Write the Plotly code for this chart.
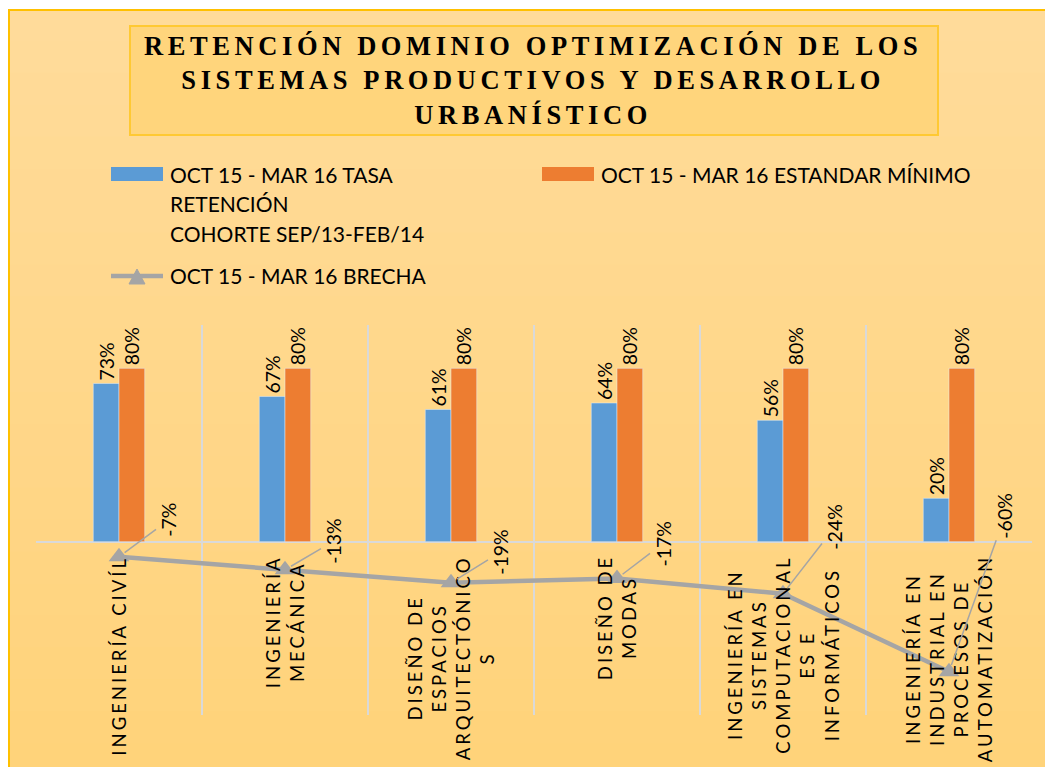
import plotly.graph_objects as go

# ---------------- data ----------------
categories = [
    "INGENIERÍA CIVÍL",
    "INGENIERÍA<br>MECÁNICA",
    "DISEÑO DE<br>ESPACIOS<br>ARQUITECTÓNICO<br>S",
    "DISEÑO DE<br>MODAS",
    "INGENIERÍA EN<br>SISTEMAS<br>COMPUTACIONAL<br>ES E<br>INFORMÁTICOS",
    "INGENIERÍA EN<br>INDUSTRIAL EN<br>PROCESOS DE<br>AUTOMATIZACIÓN",
]
cat_keys = ["c1", "c2", "c3", "c4", "c5", "c6"]
tasa = [0.73, 0.67, 0.61, 0.64, 0.56, 0.20]
estandar = [0.80, 0.80, 0.80, 0.80, 0.80, 0.80]
brecha = [-0.07, -0.13, -0.19, -0.17, -0.24, -0.60]

series_names = [
    "OCT 15 - MAR 16 TASA<br>RETENCIÓN<br>COHORTE SEP/13-FEB/14",
    "OCT 15 - MAR 16 ESTANDAR MÍNIMO",
    "OCT 15 - MAR 16 BRECHA",
]
title_lines = [
    "RETENCIÓN DOMINIO OPTIMIZACIÓN DE LOS",
    "SISTEMAS PRODUCTIVOS Y DESARROLLO",
    "URBANÍSTICO",
]

# ---------------- layout constants ----------------
OFF = 8                      # page body margin
W, H = 1053 - OFF, 767 - OFF
# plot area in screen pixels
SL, SR, ST, SB = 36, 1032, 325, 715
BLUE, ORANGE, GRAY = "#5B9BD5", "#ED7D31", "#A5A5A5"
FONT = "Lato"
# pixel offsets of the brecha labels from their points
label_offsets = [(50, -37), (49, -29), (50, -31), (46, -35), (52, -67), (56, -156)]


def px(x):
    return (x - SL) / (SR - SL)


def py(y):
    return (SB - y) / (SB - ST)


def spaced(text, sp):
    return "<br>".join(
        f"<span style='letter-spacing:{sp}px'>{ln}</span>" for ln in text.split("<br>")
    )


fig = go.Figure()

fig.add_trace(go.Bar(
    x=cat_keys, y=tasa, name=series_names[0], marker_color=BLUE,
    texttemplate="%{y:.0%}", textposition="outside", textangle=-90,
    constraintext="none", cliponaxis=False,
    textfont=dict(family=FONT, size=19.5, color="#000000"), showlegend=False,
))
fig.add_trace(go.Bar(
    x=cat_keys, y=estandar, name=series_names[1], marker_color=ORANGE,
    texttemplate="%{y:.0%}", textposition="outside", textangle=-90,
    constraintext="none", cliponaxis=False,
    textfont=dict(family=FONT, size=19.5, color="#000000"), showlegend=False,
))
fig.add_trace(go.Scatter(
    x=cat_keys, y=brecha, name=series_names[2], mode="lines+markers",
    line=dict(color=GRAY, width=4.5),
    marker=dict(symbol="triangle-up", size=18, color=GRAY),
    cliponaxis=False, showlegend=False,
))

shapes = []
# background gradient of the chart area
top_c = (255, 219, 154)
bot_c = (255, 211, 122)
y0p, y1p = 9, 775
nb = 24
for i in range(nb):
    t = i / (nb - 1)
    c = tuple(round(top_c[k] + (bot_c[k] - top_c[k]) * t) for k in range(3))
    ya = y0p + (y1p - y0p) * i / nb
    yb = y0p + (y1p - y0p) * (i + 1) / nb + 1
    shapes.append(dict(type="rect", xref="paper", yref="paper", layer="below",
                       x0=px(8), x1=px(1065), y0=py(ya), y1=py(yb),
                       fillcolor=f"rgb{c}", line=dict(width=0)))
shapes.append(dict(type="rect", xref="paper", yref="paper", layer="below",
                   x0=px(9), x1=px(1065), y0=py(10), y1=py(790),
                   line=dict(color="#FFC000", width=2)))
# title box
shapes.append(dict(type="rect", xref="paper", yref="paper", layer="below",
                   x0=px(130), x1=px(938), y0=py(26), y1=py(135),
                   fillcolor="#FFD57C", line=dict(color="#FFC933", width=2)))
# legend symbols
shapes.append(dict(type="rect", xref="paper", yref="paper", x0=px(111), x1=px(163),
                   y0=py(167), y1=py(181), fillcolor=BLUE, line=dict(width=0)))
shapes.append(dict(type="rect", xref="paper", yref="paper", x0=px(542), x1=px(594),
                   y0=py(167), y1=py(181), fillcolor=ORANGE, line=dict(width=0)))
shapes.append(dict(type="line", xref="paper", yref="paper", x0=px(111), x1=px(163),
                   y0=py(276), y1=py(276), line=dict(color=GRAY, width=4.5)))
shapes.append(dict(type="path", xref="paper", yref="paper",
                   path=f"M {px(129)} {py(284)} L {px(145)} {py(284)} L {px(137)} {py(269)} Z",
                   fillcolor=GRAY, line=dict(color=GRAY, width=1)))

ann = []
# title
ann.append(dict(xref="paper", yref="paper", x=px(533), y=py(80), showarrow=False,
                text="<br>".join(spaced(l, 4.6) for l in title_lines),
                font=dict(family="Liberation Serif", size=26.5, color="#000000",
                          weight="bold"),
                xanchor="center", yanchor="middle", align="center"))
# legend texts
leg_font = dict(family=FONT, size=21, color="#000000")
leg1 = series_names[0].split("<br>")
for i, ln in enumerate(leg1):
    ann.append(dict(xref="paper", yref="paper", x=px(168), y=py(174 + 29.5 * i),
                    text=ln, showarrow=False, xanchor="left", yanchor="middle",
                    font=leg_font))
ann.append(dict(xref="paper", yref="paper", x=px(599), y=py(174),
                text=series_names[1], showarrow=False, xanchor="left",
                yanchor="middle", font=leg_font))
ann.append(dict(xref="paper", yref="paper", x=px(168), y=py(275),
                text=series_names[2], showarrow=False, xanchor="left",
                yanchor="middle", font=leg_font))
# category labels
for k, lab in zip(cat_keys, categories):
    ann.append(dict(x=k, y=0, xref="x", yref="y", showarrow=False,
                    text=spaced(lab, 3.0), textangle=-90, xanchor="center",
                    yanchor="top", yshift=-12, align="center",
                    font=dict(family=FONT, size=18.5, color="#000000")))
# brecha labels with leader lines
for k, v, (dx, dy) in zip(cat_keys, brecha, label_offsets):
    ann.append(dict(x=k, y=v, xref="x", yref="y", text=f"{v:.0%}",
                    showarrow=True, arrowhead=0, arrowwidth=1.5, arrowcolor=GRAY,
                    ax=dx, ay=dy, textangle=-90, standoff=7,
                    font=dict(family=FONT, size=19.5, color="#000000")))

fig.update_layout(
    width=W, height=H,
    margin=dict(l=SL - OFF, r=W - (SR - OFF), t=ST - OFF, b=H - (SB - OFF), pad=0),
    paper_bgcolor="#FFFFFF", plot_bgcolor="rgba(0,0,0,0)",
    barmode="group", bargap=0.69, bargroupgap=0,
    shapes=shapes, annotations=ann, showlegend=False,
    xaxis=dict(type="category", range=[-0.5, 5.5], tickson="boundaries",
               showgrid=True, gridcolor="#D9D9D9", gridwidth=2,
               showticklabels=False, ticks="", showline=False, zeroline=False),
    yaxis=dict(range=[-0.8, 1.0], showgrid=False, showticklabels=False,
               zeroline=True, zerolinecolor="#D9D9D9", zerolinewidth=2,
               showline=False, ticks=""),
)

fig.write_html("out.html")
